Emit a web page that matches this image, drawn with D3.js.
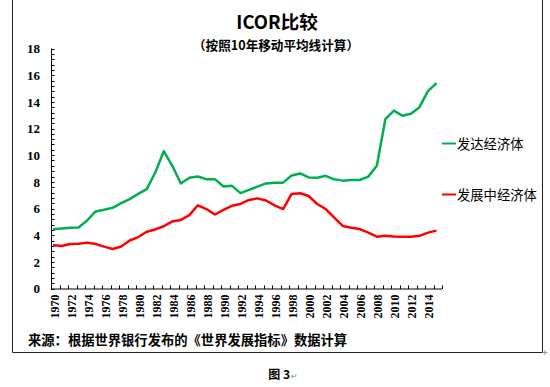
<!DOCTYPE html>
<html><head><meta charset="utf-8">
<script src="https://cdn.jsdelivr.net/npm/d3@7"></script>
<style>body{margin:0;background:#fff}svg{display:block}</style>
</head><body>
<svg id="c" width="550" height="387"></svg>
<script>
const years = [1970,1971,1972,1973,1974,1975,1976,1977,1978,1979,1980,1981,1982,1983,1984,1985,1986,1987,1988,1989,1990,1991,1992,1993,1994,1995,1996,1997,1998,1999,2000,2001,2002,2003,2004,2005,2006,2007,2008,2009,2010,2011,2012,2013,2014,2015];
const developed = [4.45,4.5,4.55,4.57,5.1,5.78,5.9,6.05,6.4,6.7,7.1,7.45,8.7,10.3,9.2,7.87,8.3,8.4,8.2,8.2,7.65,7.7,7.15,7.4,7.64,7.88,7.94,7.94,8.48,8.63,8.33,8.31,8.45,8.19,8.09,8.14,8.14,8.39,9.21,12.7,13.34,12.96,13.1,13.6,14.8,15.4];
const developing = [3.26,3.19,3.34,3.36,3.44,3.34,3.14,2.96,3.15,3.6,3.86,4.26,4.43,4.67,5.03,5.14,5.5,6.24,5.96,5.55,5.9,6.2,6.34,6.64,6.76,6.6,6.23,5.96,7.09,7.14,6.94,6.34,5.96,5.31,4.69,4.56,4.46,4.19,3.89,3.96,3.9,3.89,3.89,3.95,4.19,4.34];
const yTicks = [0,2,4,6,8,10,12,14,16,18];
const xLabels = [1970,1972,1974,1976,1978,1980,1982,1984,1986,1988,1990,1992,1994,1996,1998,2000,2002,2004,2006,2008,2010,2012,2014];
const seriesNames = ["发达经济体","发展中经济体"];
const colors = ["#00B050","#FF0000"];
const title = "ICOR比较";
const subtitle = "（按照10年移动平均线计算）";
const source = "来源：根据世界银行发布的《世界发展指标》数据计算";
const caption = "图 3";

(function(){
const svg = d3.select("#c");
const cjk = "'Noto Sans CJK SC', 'Noto Sans', sans-serif";
const num = "'Liberation Serif', 'DejaVu Serif', serif";

// outer frame
svg.append("path").attr("d","M12.5,0 V352.5 H542.5 V0").attr("fill","none").attr("stroke","#222").attr("stroke-width",1);
svg.append("path").attr("d","M542.5,352.5 h5 M545,350 v5").attr("stroke","#999").attr("stroke-width",1);

const pl = 51, pr = 442, pt = 48.5, pb = 288.5;
const y = d3.scaleLinear().domain([0,18]).range([pb, pt]);
const band = d3.scaleBand().domain(years).range([pl, pr]);
const x = d3.scalePoint().domain(years).range([53, 436.5]);

// title
svg.append("text").attr("x",277).attr("y",29).attr("text-anchor","middle")
  .attr("font-family",cjk).attr("font-weight","bold").attr("font-size",18.5).text(title);
svg.append("text").attr("x",276).attr("y",50).attr("text-anchor","middle")
  .attr("font-family",cjk).attr("font-weight","bold").attr("font-size",12.6).text(subtitle);

// y axis
const yAxis = d3.axisLeft(y).tickValues(yTicks).tickSize(0).tickPadding(11).tickFormat(d3.format("d"));
const gy = svg.append("g").attr("transform",`translate(${pl},0)`).call(yAxis);
gy.select(".domain").remove();
gy.selectAll("text").attr("font-family",num).attr("font-weight","bold").attr("font-size",13).attr("fill","#000");
const minorY = d3.range(0, 18.0001, 0.4);
svg.append("g").selectAll("line").data(minorY).join("line")
  .attr("x1",pl).attr("x2",pl+3.5).attr("y1",d=>Math.round(y(d))+0.5).attr("y2",d=>Math.round(y(d))+0.5)
  .attr("stroke","#000").attr("stroke-width",1);
svg.append("line").attr("x1",pl+0.5).attr("x2",pl+0.5).attr("y1",pt).attr("y2",pb+0.5).attr("stroke","#000");

// x axis
svg.append("line").attr("x1",pl).attr("x2",pr).attr("y1",pb+0.5).attr("y2",pb+0.5).attr("stroke","#000");
svg.append("g").selectAll("line").data(years.concat(["end"])).join("line")
  .attr("x1",d=>Math.round(d==="end"?pr:band(d))+0.5).attr("x2",d=>Math.round(d==="end"?pr:band(d))+0.5)
  .attr("y1",pb+0.5).attr("y2",pb-3).attr("stroke","#000");
const xAxis = d3.axisBottom(band).tickValues(xLabels).tickSize(0).tickPadding(0);
const gx = svg.append("g").attr("transform",`translate(0,${pb})`).call(xAxis);
gx.select(".domain").remove();
gx.selectAll("text").attr("font-family",num).attr("font-weight","bold").attr("font-size",12).attr("fill","#000")
  .attr("transform","rotate(-90)").attr("text-anchor","end").attr("dy","0.35em").attr("x",-6).attr("y",0);

// lines
const line = d3.line().x((d,i)=>x(years[i])).y(d=>y(d));
[developed, developing].forEach((s,k)=>{
  svg.append("path").datum(s).attr("d",line).attr("fill","none").attr("stroke",colors[k])
    .attr("stroke-width",2.5).attr("stroke-linejoin","round");
});

// legend
const legY = [143.5, 194.5];
seriesNames.forEach((n,k)=>{
  svg.append("line").attr("x1",442).attr("x2",456).attr("y1",legY[k]).attr("y2",legY[k]).attr("stroke",colors[k]).attr("stroke-width",2);
  svg.append("text").attr("x",457).attr("y",legY[k]+5).attr("font-family",cjk).attr("font-size",13.3).attr("fill","#000").text(n);
});

// source
svg.append("text").attr("x",28).attr("y",345).attr("font-family",cjk).attr("font-weight","bold").attr("font-size",13.3).text(source);
// caption
svg.append("text").attr("x",290).attr("y",379).attr("text-anchor","end").attr("font-family",cjk).attr("font-weight","bold").attr("font-size",12).text(caption);
svg.append("text").attr("x",291).attr("y",379).attr("font-family","DejaVu Sans").attr("font-size",8).attr("fill","#888").text("↵");
})();
</script>
</body></html>
